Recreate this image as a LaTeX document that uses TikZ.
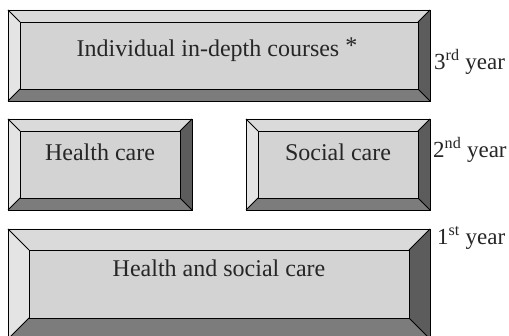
\documentclass[tikz,border=0pt]{standalone}
\usepackage{fontspec}
\setmainfont{Liberation Serif}
\definecolor{bvface}{HTML}{D3D3D3}
\definecolor{bvtop}{HTML}{DADADA}
\definecolor{bvleft}{HTML}{E4E4E4}
\definecolor{bvright}{HTML}{5C5C5C}
\definecolor{bvbottom}{HTML}{7C7C7C}
\definecolor{txt}{HTML}{262626}
\tikzset{
  edge/.style={draw=black, line width=0.9pt, line join=miter},
  lbl/.style={inner sep=0pt, anchor=base, text=txt, font=\fontsize{24}{28}\selectfont},
  yearlbl/.style={inner sep=0pt, anchor=base west, text=txt, font=\fontsize{23}{27}\selectfont},
}
% #1 name, #2 x1, #3 y1, #4 x2, #5 y2, #6 bevel
\newcommand\bevbox[6]{%
  \coordinate (#1-nw) at (#2,#3);
  \coordinate (#1-ne) at (#4,#3);
  \coordinate (#1-se) at (#4,#5);
  \coordinate (#1-sw) at (#2,#5);
  \coordinate (#1-inw) at (#2+#6,#3+#6);
  \coordinate (#1-ine) at (#4-#6,#3+#6);
  \coordinate (#1-ise) at (#4-#6,#5-#6);
  \coordinate (#1-isw) at (#2+#6,#5-#6);
  \fill[bvtop] (#1-nw) -- (#1-ne) -- (#1-ine) -- (#1-inw) -- cycle;
  \fill[bvleft] (#1-nw) -- (#1-inw) -- (#1-isw) -- (#1-sw) -- cycle;
  \fill[bvright] (#1-ne) -- (#1-se) -- (#1-ise) -- (#1-ine) -- cycle;
  \fill[bvbottom] (#1-sw) -- (#1-isw) -- (#1-ise) -- (#1-se) -- cycle;
  \fill[bvface] (#1-inw) rectangle (#1-ise);
  \draw[edge] (#1-nw) rectangle (#1-se);
  \draw[edge] (#1-inw) rectangle (#1-ise);
  \draw[edge] (#1-nw) -- (#1-inw) (#1-ne) -- (#1-ine) (#1-se) -- (#1-ise) (#1-sw) -- (#1-isw);
}
\begin{document}
\begin{tikzpicture}[x=1pt, y=-1pt]
\useasboundingbox (0,0) rectangle (509,336);
\clip (0,0) rectangle (509,336);
\fill[white] (0,0) rectangle (509,336);

\bevbox{third}{8}{10}{430}{101}{12}
\bevbox{health}{8}{119}{192}{210}{12}
\bevbox{social}{246}{119}{430}{210}{12}
\bevbox{first}{8}{229}{430}{339}{21}

\node[lbl] (tindiv) at (217,57) {Individual in-depth courses \raisebox{3pt}{*}};
\node[lbl] (thealth) at (100,161) {Health care};
\node[lbl] (tsocial) at (338,161) {Social care};
\node[lbl] (tboth) at (219,277) {Health and social care};

\node[yearlbl] (y3) at (434,70) {3\textsuperscript{rd} year};
\node[yearlbl] (y2) at (433,158) {2\textsuperscript{nd} year};
\node[yearlbl] (y1) at (437,245) {1\textsuperscript{st} year};
\end{tikzpicture}
\end{document}
